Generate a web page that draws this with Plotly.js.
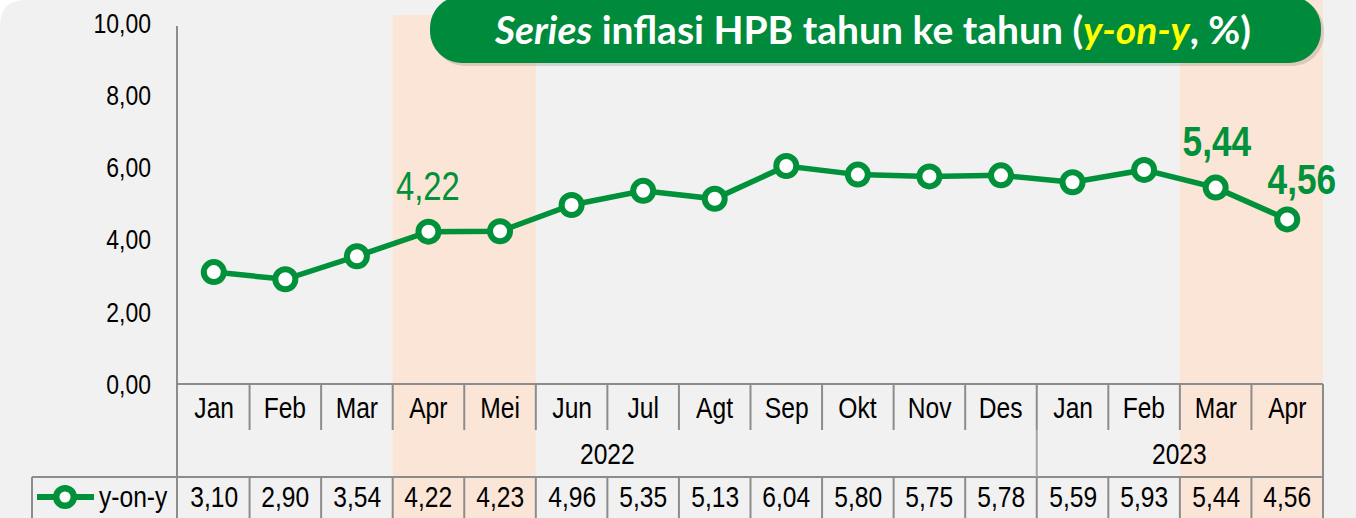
<!DOCTYPE html>
<html>
<head>
<meta charset="utf-8">
<script src="https://cdn.plot.ly/plotly-3.0.1.min.js"></script>
<style>html,body{margin:0;padding:0;background:#fff;}#chart{width:1356px;height:518px;}</style>
</head>
<body>
<div id="chart"></div>
<script>
// ---- data ----
const months = ['Jan','Feb','Mar','Apr','Mei','Jun','Jul','Agt','Sep','Okt','Nov','Des','Jan','Feb','Mar','Apr'];
const years  = ['2022','2022','2022','2022','2022','2022','2022','2022','2022','2022','2022','2022','2023','2023','2023','2023'];
const yoy    = [3.10, 2.90, 3.54, 4.22, 4.23, 4.96, 5.35, 5.13, 6.04, 5.80, 5.75, 5.78, 5.59, 5.93, 5.44, 4.56];
const seriesName = 'y-on-y';
const yTicks = [0, 2, 4, 6, 8, 10];
const shadedPeriods = [[3, 4], [14, 15]];   // month index ranges highlighted
const calloutIdx = [3, 14, 15];             // points with a value callout

// ---- styling / geometry ----
const W = 1356, H = 518;
const L = 178, R = 1323, T = 23, B = 384;
const GREEN = '#00913a', BOX = '#008a3b', PEACH = '#fbe5d6', BG = '#f1f1f1', GRID = '#8c8c8c';
const NARROW = '"Liberation Sans", Arial, sans-serif';
const CONDENSE = 0.82;   // Arial Narrow look
const X = px => (px - L) / (R - L);
const Y = py => (B - py) / (B - T);
const fmt = v => v.toFixed(2).replace('.', ',');
const n = months.length;
const colW = (R - L) / n;

function roundRect(x0, y0, x1, y1, r) {
  const k = 0.5523 * r;
  const p = (x, y) => X(x) + ',' + Y(y);
  return 'M' + p(x0 + r, y0) + ' L' + p(x1 - r, y0) +
    ' C' + p(x1 - r + k, y0) + ' ' + p(x1, y0 + r - k) + ' ' + p(x1, y0 + r) +
    ' L' + p(x1, y1 - r) +
    ' C' + p(x1, y1 - r + k) + ' ' + p(x1 - r + k, y1) + ' ' + p(x1 - r, y1) +
    ' L' + p(x0 + r, y1) +
    ' C' + p(x0 + r - k, y1) + ' ' + p(x0, y1 - r + k) + ' ' + p(x0, y1 - r) +
    ' L' + p(x0, y0 + r) +
    ' C' + p(x0, y0 + r - k) + ' ' + p(x0 + r - k, y0) + ' ' + p(x0 + r, y0) + ' Z';
}

const shapes = [];
// background panel with rounded top-left corner
shapes.push({type: 'path', xref: 'paper', yref: 'paper', layer: 'below',
  path: 'M' + X(0) + ',' + Y(H) + ' L' + X(0) + ',' + Y(26) +
        ' Q' + X(0) + ',' + Y(0) + ' ' + X(26) + ',' + Y(0) +
        ' L' + X(W) + ',' + Y(0) + ' L' + X(W) + ',' + Y(H) + ' Z',
  fillcolor: BG, line: {width: 0}});
// highlighted periods
shadedPeriods.forEach((s, k) => {
  shapes.push({type: 'rect', xref: 'x', yref: 'paper', layer: 'below',
    x0: s[0] - 0.5, x1: s[1] + 0.5, y0: Y(H), y1: Y(k === 0 ? 15 : 0),
    fillcolor: PEACH, line: {width: 0}});
});
// title box (shadow + box)
shapes.push({type: 'path', xref: 'paper', yref: 'paper', layer: 'below',
  path: roundRect(433, -1, 1324, 66, 32), fillcolor: 'rgba(0,0,0,0.12)', line: {width: 0}});
shapes.push({type: 'path', xref: 'paper', yref: 'paper', layer: 'below',
  path: roundRect(430, -4, 1321, 63, 32), fillcolor: BOX, line: {width: 0}});

const hline = (x0, x1, py, c, w) => shapes.push({type: 'line', xref: 'paper', yref: 'paper', layer: 'below',
  x0: X(x0), x1: X(x1), y0: Y(py), y1: Y(py), line: {color: c || GRID, width: w || 2}});
const vline = (px, y0, y1, c, w) => shapes.push({type: 'line', xref: 'paper', yref: 'paper', layer: 'below',
  x0: X(px), x1: X(px), y0: Y(y0), y1: Y(y1), line: {color: c || GRID, width: w || 2}});
const colEdge = i => L + (i + 1) * colW;   // pixel of boundary after column i

// table grid
vline(177, 26, H);                    // value axis line, running down through table
hline(177, R, B);                     // category axis line
hline(32, R, 477);                    // top of values row
vline(32, 477, H);                    // legend cell left border
vline(R, B, H);                       // right border
for (let i = 0; i < n - 1; i++) {
  vline(colEdge(i), B, 430);          // month row dividers
  vline(colEdge(i), 477, H);          // value row dividers
  if (years[i] !== years[i + 1]) vline(colEdge(i), 430, 477, '#a6a6a6', 2);
}
// legend symbol
hline(37, 94, 497, GREEN, 6);
shapes.push({type: 'circle', xref: 'paper', yref: 'paper', layer: 'above',
  x0: X(65 - 8.8), x1: X(65 + 8.8), y0: Y(497 + 8.8), y1: Y(497 - 8.8),
  fillcolor: '#ffffff', line: {color: GREEN, width: 6.5}});

// annotations: table text
const TF = {family: NARROW, size: 30, color: '#000'};
const annotations = [];
months.forEach((m, i) => annotations.push({xref: 'x', yref: 'paper', x: i, y: Y(407), text: m,
  showarrow: false, xanchor: 'center', yanchor: 'middle', font: TF}));
const uniqYears = [...new Set(years)];
uniqYears.forEach(yr => {
  const idx = years.map((v, i) => v === yr ? i : -1).filter(i => i >= 0);
  const c = (idx[0] + idx[idx.length - 1]) / 2;
  annotations.push({xref: 'x', yref: 'paper', x: c, y: Y(453), text: yr, showarrow: false,
    xanchor: 'center', yanchor: 'middle', font: TF});
});
yoy.forEach((v, i) => annotations.push({xref: 'x', yref: 'paper', x: i, y: Y(497), text: fmt(v),
  showarrow: false, xanchor: 'center', yanchor: 'middle', font: TF}));
annotations.push({xref: 'paper', yref: 'paper', x: X(97), y: Y(497), text: seriesName, showarrow: false,
  xanchor: 'left', yanchor: 'middle', align: 'left', font: TF});

// callouts
const calloutStyle = {
  3:  {xshift: 0,  yshift: 46, bold: false},
  14: {xshift: 1,  yshift: 47, bold: true},
  15: {xshift: 15, yshift: 40, bold: true}
};
calloutIdx.forEach(i => {
  const st = calloutStyle[i];
  annotations.push({xref: 'x', yref: 'y', x: i, y: yoy[i], text: st.bold ? '<b>' + fmt(yoy[i]) + '</b>' : fmt(yoy[i]),
    showarrow: false, xanchor: 'center', yanchor: 'middle', xshift: st.xshift, yshift: st.yshift,
    font: {family: NARROW, size: st.bold ? 43 : 40, color: GREEN}});
});

const trace = {
  type: 'scatter', mode: 'lines+markers', name: seriesName,
  x: months.map((m, i) => i), y: yoy,
  line: {color: GREEN, width: 5.5},
  marker: {symbol: 'circle', size: 20, color: '#ffffff', line: {color: GREEN, width: 6}},
  cliponaxis: false, hoverinfo: 'skip'
};

const layout = {
  width: W, height: H, autosize: false,
  margin: {l: L, r: W - R, t: T, b: H - B, pad: 0},
  paper_bgcolor: '#ffffff', plot_bgcolor: 'rgba(0,0,0,0)',
  separators: ',.',
  showlegend: false,
  title: {
    text: "<i>Series</i> inflasi HPB tahun ke tahun (<i><span style='color:#ffff00'>y-on-y</span></i>, %)",
    font: {family: 'Lato, "Open Sans", sans-serif', size: 39, color: '#ffffff', weight: 'bold'},
    x: 873 / W, xanchor: 'center', y: 1 - 30 / H, yanchor: 'middle', xref: 'container', yref: 'container'
  },
  xaxis: {range: [-0.5, n - 0.5], showgrid: false, zeroline: false, showline: false,
          showticklabels: false, ticks: '', fixedrange: true},
  yaxis: {range: [0, 10], tickvals: yTicks, tickformat: '.2f', showgrid: false, zeroline: false,
          showline: false, ticks: '', ticklabelstandoff: 26,
          tickfont: {family: NARROW, size: 28, color: '#000'}, fixedrange: true},
  shapes: shapes,
  annotations: annotations
};

// horizontally condense Arial-metric text to mimic Arial Narrow
function condense(el, pivot) {
  const bb = el.getBBox();
  let cx;
  if (pivot === 'left') cx = bb.x;
  else if (pivot === 'right') cx = bb.x + bb.width;
  else cx = bb.x + bb.width / 2;
  const t = el.getAttribute('transform') || '';
  el.setAttribute('transform', t + ' translate(' + cx + ',0) scale(' + CONDENSE + ',1) translate(' + (-cx) + ',0)');
}

Plotly.newPlot('chart', [trace], layout, {displayModeBar: false, staticPlot: true}).then(gd => {
  gd.querySelectorAll('.annotation-text').forEach(el => {
    const a = el.getAttribute('text-anchor');
    condense(el, a === 'start' ? 'left' : a === 'end' ? 'right' : 'middle');
  });
  gd.querySelectorAll('.ytick text').forEach(el => condense(el, 'right'));
});
</script>
</body>
</html>
